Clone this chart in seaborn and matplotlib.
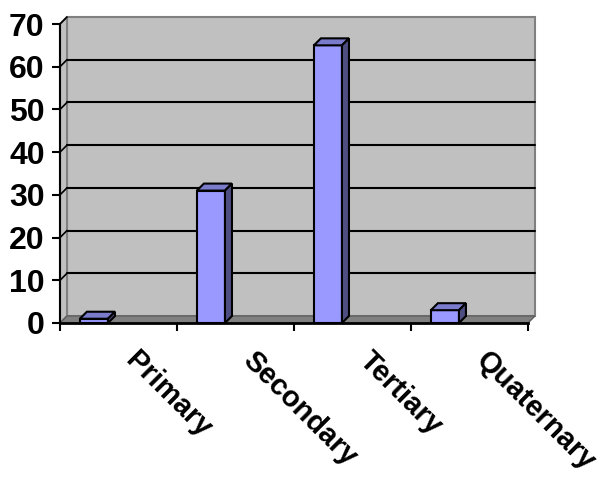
import numpy as np
import pandas as pd
import matplotlib
matplotlib.use("Agg")
import matplotlib.pyplot as plt
import matplotlib.transforms as mtransforms
from matplotlib.patches import Polygon
import seaborn as sns

# chart data
categories = ["Primary", "Secondary", "Tertiary", "Quaternary"]
values = [1, 31, 65, 3]
y_ticks = [0, 10, 20, 30, 40, 50, 60, 70]

df = pd.DataFrame({"level": categories, "value": values})

sns.set_style("white")
plt.rcParams["font.family"] = ["Liberation Sans", "DejaVu Sans"]
plt.rcParams["font.weight"] = "bold"
plt.rcParams["text.color"] = "black"
plt.rcParams["xtick.color"] = "black"
plt.rcParams["ytick.color"] = "black"
plt.rcParams["xtick.labelcolor"] = "black"
plt.rcParams["ytick.labelcolor"] = "black"
plt.rcParams["axes.edgecolor"] = "black"

W, H = 606, 479
fig = plt.figure(figsize=(W / 100, H / 100), dpi=100)
# front plane of the pseudo-3d box, in pixels
left, right, top, bottom = 60, 528, 24, 323
ax = fig.add_axes([left / W, (H - bottom) / H, (right - left) / W, (bottom - top) / H])
ax.set_facecolor("none")

xlo, xhi = -0.29, 3.71
ymax = 70
depth = 7  # px
dx = depth / ((right - left) / (xhi - xlo))
dy = depth / ((bottom - top) / ymax)

sns.barplot(data=df, x="level", y="value", color="#9999FF", saturation=1,
            width=0.24, edgecolor="black", linewidth=1.5, ax=ax, zorder=3)
ax.set_xlim(xlo, xhi)
ax.set_ylim(0, ymax)

# back wall + side wall
wall = Polygon([(xlo + dx, dy), (xhi + dx, dy), (xhi + dx, ymax + dy), (xlo + dx, ymax + dy)],
               closed=True, facecolor="#C0C0C0", edgecolor="#808080", lw=1.5,
               clip_on=False, zorder=0)
ax.add_patch(wall)
side = Polygon([(xlo, 0), (xlo + dx, dy), (xlo + dx, ymax + dy), (xlo, ymax)],
               closed=True, facecolor="#C0C0C0", edgecolor="#808080", lw=1.5,
               clip_on=False, zorder=0.1)
ax.add_patch(side)
floor = Polygon([(xlo, 0), (xhi, 0), (xhi + dx, dy), (xlo + dx, dy)],
                closed=True, facecolor="#808080", edgecolor="#606060", lw=1,
                clip_on=False, zorder=0.2)
ax.add_patch(floor)

for v in y_ticks[1:-1]:
    ax.plot([xlo + dx, xhi + dx], [v + dy, v + dy], color="black", lw=1.5,
            clip_on=False, zorder=0.5)
for v in y_ticks[1:]:
    ax.plot([xlo, xlo + dx], [v, v + dy], color="black", lw=1.2,
            clip_on=False, zorder=0.5)

# bar tops and sides
for p in ax.patches:
    if not isinstance(p, matplotlib.patches.Rectangle):
        continue
    x0, y0 = p.get_x(), p.get_y()
    x1, y1 = x0 + p.get_width(), y0 + p.get_height()
    top_face = Polygon([(x0, y1), (x1, y1), (x1 + dx, y1 + dy), (x0 + dx, y1 + dy)],
                       closed=True, facecolor="#7B7BCC", edgecolor="black", lw=1.5,
                       clip_on=False, zorder=3)
    side_face = Polygon([(x1, y0), (x1 + dx, y0 + dy), (x1 + dx, y1 + dy), (x1, y1)],
                        closed=True, facecolor="#4E4E82", edgecolor="black", lw=1.5,
                        clip_on=False, zorder=3)
    ax.add_patch(top_face)
    ax.add_patch(side_face)

# axes lines
for s in ["top", "right"]:
    ax.spines[s].set_visible(False)
ax.spines["left"].set_linewidth(1.5)
ax.spines["bottom"].set_linewidth(2)
ax.spines["left"].set_zorder(4)
ax.spines["bottom"].set_zorder(4)

ax.set_yticks(y_ticks)
ax.tick_params(axis="y", direction="out", length=6, width=1.5, pad=5,
               labelsize=23, left=True, colors="black")
centers = [i + 0.5 + xlo for i in range(len(categories))]
ax.set_xticks(centers)
ax.set_xticks([xlo + i for i in range(len(categories) + 1)], minor=True)
ax.set_xticklabels(categories)
ax.tick_params(axis="x", which="major", length=0, pad=17, labelsize=21,
               colors="black")
ax.tick_params(axis="x", which="minor", direction="out", length=6, width=1.5,
               bottom=True, colors="black")
shift = mtransforms.ScaledTranslation(21 / 100, 0, fig.dpi_scale_trans)
for lab in ax.get_xticklabels():
    lab.set_rotation(-45)
    lab.set_rotation_mode("anchor")
    lab.set_ha("left")
    lab.set_va("top")
    lab.set_transform(lab.get_transform() + shift)
for lab in ax.get_yticklabels():
    lab.set_fontweight("bold")
ax.set_xlabel("")
ax.set_ylabel("")

fig.savefig("out.png", dpi=100, facecolor="white")
